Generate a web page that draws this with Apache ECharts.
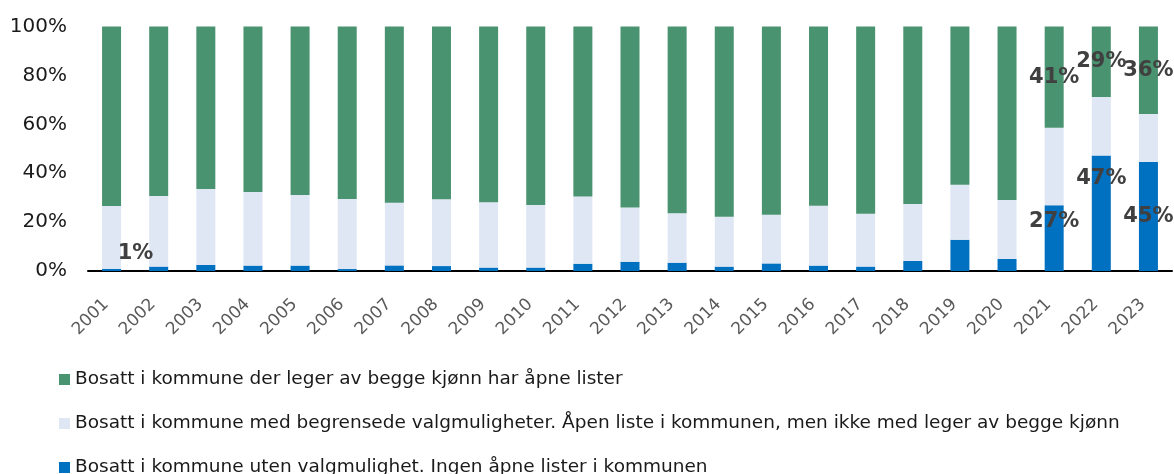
<!DOCTYPE html>
<html>
<head>
<meta charset="utf-8">
<script src="https://cdn.jsdelivr.net/npm/echarts@6/dist/echarts.min.js"></script>
<style>
	html, body { margin: 0; padding: 0; background: #fff; }
	#chart { width: 1174px; height: 474px; }
</style>
</head>
<body>
<div id="chart"></div>
<script>
// data (percent of inhabitants)
var years = ['2001', '2002', '2003', '2004', '2005', '2006', '2007', '2008', '2009', '2010', '2011', '2012',
	'2013', '2014', '2015', '2016', '2017', '2018', '2019', '2020', '2021', '2022', '2023'];
var noChoice = [0.9, 1.8, 2.5, 2.2, 2.2, 0.8, 2.3, 2.0, 1.4, 1.4, 3.0, 3.8, 3.4, 1.8, 3.1, 2.2, 1.8, 4.1, 12.8, 4.9, 26.9, 47.2, 44.6];
var limited = [25.7, 28.9, 31.0, 30.1, 28.9, 28.6, 25.6, 27.3, 26.7, 25.6, 27.5, 22.2, 20.2, 20.4, 19.9, 24.5, 21.6, 23.3, 22.5, 24.1, 31.7, 24.0, 19.6];
var bothSexes = [73.4, 69.3, 66.5, 67.7, 68.9, 70.6, 72.1, 70.7, 71.9, 73.0, 69.5, 74.0, 76.4, 77.8, 77.0, 73.3, 76.6, 72.6, 64.7, 71.0, 41.4, 28.8, 35.8];
var yTicks = [0, 20, 40, 60, 80, 100];

var nameBoth = 'Bosatt i kommune der leger av begge kjønn har åpne lister';
var nameLimited = 'Bosatt i kommune med begrensede valgmuligheter. Åpen liste i kommunen, men ikke med leger av begge kjønn';
var nameNone = 'Bosatt i kommune uten valgmulighet. Ingen åpne lister i kommunen';

var labelStyle = {
	show: true,
	color: '#404040',
	fontSize: 21,
	fontWeight: 'bold',
	fontFamily: 'DejaVu Sans',
	formatter: function (p) { return Math.round(p.value) + '%'; }
};

// which bars carry a value label
var noneLabels = {
	0: { position: 'top', offset: [24, 0] },
	20: { position: 'inside', offset: [0, -17] },
	21: { position: 'inside', offset: [0, -35] },
	22: { position: 'inside', offset: [0, 0] }
};
var bothLabels = {
	20: { position: 'inside' },
	21: { position: 'inside' },
	22: { position: 'inside' }
};

function withLabels(values, plan) {
	return values.map(function (v, i) {
		if (plan[i]) {
			return { value: v, label: Object.assign({}, labelStyle, plan[i]) };
		}
		return v;
	});
}

var myChart = echarts.init(document.getElementById('chart'));
var option = {
	animation: false,
	textStyle: { fontFamily: 'DejaVu Sans' },
	grid: {
		top: 26.5,
		bottom: 203,
		left: 88,
		right: 2
	},
	legend: {
		orient: 'vertical',
		left: 59,
		top: 370,
		height: 200,
		padding: 0,
		itemWidth: 11,
		itemHeight: 11,
		itemGap: 25,
		icon: 'rect',
		textStyle: {
			fontSize: 18.5,
			lineHeight: 18,
			color: '#1a1a1a'
		},
		data: [nameBoth, nameLimited, nameNone]
	},
	xAxis: {
		type: 'category',
		data: years,
		axisLine: {
			lineStyle: { color: '#000', width: 2 }
		},
		axisTick: { show: false },//坐标刻度
		axisLabel: {
			rotate: 45,
			interval: 0,
			margin: 25,
			padding: [0, 8, 0, 0],
			color: '#595959',
			fontSize: 17
		}
	},
	yAxis: {
		type: 'value',
		min: yTicks[0],
		max: yTicks[yTicks.length - 1],
		interval: 20,
		axisLine: { show: false },
		axisTick: { show: false },
		splitLine: { show: false },
		axisLabel: {
			margin: 21,
			color: '#1a1a1a',
			fontSize: 20,
			formatter: '{value}%'
		}
	},
	series: [
		{
			name: nameNone,
			type: 'bar',
			stack: 'total',
			barWidth: 19,
			itemStyle: { color: '#0070c0' },
			data: withLabels(noChoice, noneLabels)
		},
		{
			name: nameLimited,
			type: 'bar',
			stack: 'total',
			barWidth: 19,
			itemStyle: { color: '#dfe7f5' },
			data: limited
		},
		{
			name: nameBoth,
			type: 'bar',
			stack: 'total',
			barWidth: 19,
			itemStyle: { color: '#4a9370' },
			data: withLabels(bothSexes, bothLabels)
		}
	]
};
myChart.setOption(option);
</script>
</body>
</html>
